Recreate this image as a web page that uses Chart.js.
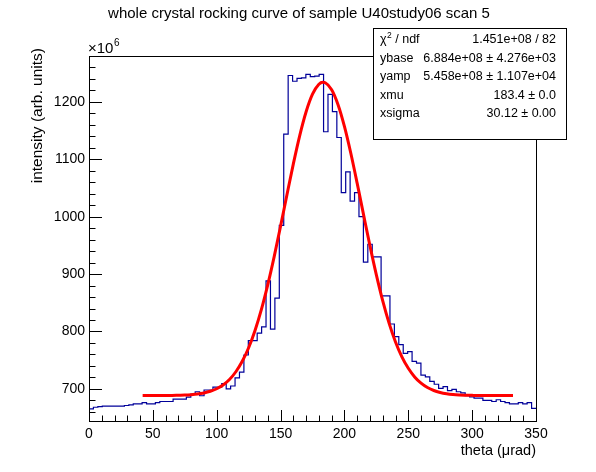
<!DOCTYPE html>
<html>
<head>
<meta charset="utf-8">
<script src="https://cdn.jsdelivr.net/npm/chart.js@4/dist/chart.umd.min.js"></script>
<style>
  html, body { margin: 0; padding: 0; background: #fff; }
</style>
</head>
<body>
<canvas id="chart" width="596" height="472"></canvas>
<script>
// histogram: 101 bins from 0 to 350 (bin contents, x10^6)
const nBins = 101;
const xMin = 0, xMax = 350;
const binValues = [
  665, 668, 669, 670, 670, 670, 670, 670, 671, 672,
  674, 674, 676, 674, 674, 676, 678, 678, 678, 682,
  682, 682, 685.5, 691, 695, 688, 698, 698, 703, 703,
  709, 700, 705, 719, 729, 759, 784, 784, 797, 808,
  888, 804, 858, 985, 1144, 1246, 1236, 1241, 1242, 1248,
  1244, 1245, 1248, 1148, 1213, 1183, 1138, 1042, 1078, 1027,
  1042, 1000, 921, 952, 930, 930, 862, 862, 813, 791,
  777, 762, 765, 748, 745, 724, 721, 713, 708, 701,
  704, 697, 699, 695, 693, 688, 686, 684, 684, 680,
  680, 678, 681, 678, 676, 674, 674, 676, 674, 676,
  666
];

// fitted gaussian
const fitX = [42, 45, 50, 55, 60, 65, 70, 75, 80, 85, 90, 95, 100, 105, 110, 115, 120, 125, 130,
  135, 140, 145, 150, 155, 160, 165, 170, 175, 180, 183, 185, 190, 195, 200, 205, 210, 215, 220,
  225, 230, 235, 240, 245, 250, 255, 260, 265, 270, 275, 280, 285, 290, 295, 300, 305, 310, 315,
  320, 325, 330, 332];
const fitY = [688.4, 688.4, 688.4, 688.5, 688.5, 688.6, 688.9, 689.2, 689.9, 691.0, 692.9, 695.8,
  700.2, 706.8, 716.4, 729.8, 748.0, 771.7, 801.8, 838.5, 881.7, 930.5, 983.5, 1038.3, 1092.0,
  1141.3, 1182.8, 1213.4, 1230.7, 1234.2, 1233.4, 1221.3, 1195.2, 1157.3, 1110.5, 1058.0, 1003.2,
  949.2, 898.7, 853.3, 814.2, 781.8, 755.8, 735.8, 720.8, 709.9, 702.3, 697.1, 693.8, 691.6,
  690.2, 689.4, 689.0, 688.7, 688.5, 688.5, 688.4, 688.4, 688.4, 688.4, 688.4];

const xTicks = [0, 50, 100, 150, 200, 250, 300, 350];
const yTicks = [700, 800, 900, 1000, 1100, 1200];

const statLabels = ["ybase", "yamp", "xmu", "xsigma"];
const statValues = ["6.884e+08 \u00b1 4.276e+03", "5.458e+08 \u00b1 1.107e+04", "183.4 \u00b1 0.0", "30.12 \u00b1 0.00"];
const chi2Text = "1.451e+08 / 82";

const FONT = '"Liberation Sans", Arial, sans-serif';

// ROOT style frame, inward ticks and text
const rootFrame = {
  id: "rootFrame",
  afterDraw(chart) {
    const ctx = chart.ctx;
    const a = chart.chartArea;
    const xs = chart.scales.x, ys = chart.scales.y;
    ctx.save();
    ctx.strokeStyle = "#000";
    ctx.lineWidth = 1;
    ctx.strokeRect(a.left + 0.5, a.top + 0.5, a.right - a.left, a.bottom - a.top);

    ctx.beginPath();
    for (let v = 0; v <= 350; v += 10) {
      const px = Math.round(xs.getPixelForValue(v)) + 0.5;
      const len = v % 50 === 0 ? 11 : 5.5;
      ctx.moveTo(px, a.bottom);
      ctx.lineTo(px, a.bottom - len);
    }
    for (let v = 660; v <= 1280; v += 20) {
      const py = Math.round(ys.getPixelForValue(v)) + 0.5;
      const len = v % 100 === 0 ? 13 : 6.5;
      ctx.moveTo(a.left, py);
      ctx.lineTo(a.left + len, py);
    }
    ctx.stroke();

    ctx.fillStyle = "#000";
    // title
    ctx.font = "15px " + FONT;
    ctx.textAlign = "center";
    ctx.textBaseline = "middle";
    ctx.fillText("whole crystal rocking curve of sample U40study06 scan 5", 299, 14);

    // x title
    ctx.font = "14.5px " + FONT;
    ctx.textAlign = "right";
    ctx.fillText("theta (\u03bcrad)", a.right, 451);

    // y title
    ctx.save();
    ctx.translate(38, 48);
    ctx.rotate(-Math.PI / 2);
    ctx.font = "15.5px " + FONT;
    ctx.textAlign = "right";
    ctx.textBaseline = "middle";
    ctx.fillText("intensity (arb. units)", 0, 0);
    ctx.restore();

    // exponent
    ctx.textAlign = "left";
    ctx.textBaseline = "alphabetic";
    ctx.font = "15px " + FONT;
    ctx.fillText("\u00d710", 88, 53);
    const w10 = ctx.measureText("\u00d710").width;
    ctx.font = "10px " + FONT;
    ctx.fillText("6", 88 + w10 + 0.5, 46);

    // stats box
    const bx = 373.5, by = 28.5, bw = 193, bh = 111;
    ctx.fillStyle = "#fff";
    ctx.fillRect(bx, by, bw, bh);
    ctx.strokeRect(bx, by, bw, bh);
    ctx.fillStyle = "#000";
    const rowY = [40, 58.5, 77, 95.5, 114];
    ctx.textBaseline = "middle";
    ctx.font = "12.5px " + FONT;
    ctx.textAlign = "left";
    ctx.fillText("\u03c7", 380, rowY[0]);
    let cx = 380 + ctx.measureText("\u03c7").width;
    ctx.font = "8.5px " + FONT;
    ctx.fillText("2", cx + 0.5, rowY[0] - 4);
    cx += ctx.measureText("2").width + 0.5;
    ctx.font = "12.5px " + FONT;
    ctx.fillText(" / ndf", cx, rowY[0]);
    ctx.textAlign = "right";
    ctx.fillText(chi2Text, 556, rowY[0]);
    statLabels.forEach((lab, i) => {
      ctx.textAlign = "left";
      ctx.fillText(lab, 380, rowY[i + 1]);
      ctx.textAlign = "right";
      ctx.fillText(statValues[i], 556, rowY[i + 1]);
    });
    ctx.restore();
  }
};

const binWidth = (xMax - xMin) / nBins;
const histData = binValues.map((v, i) => ({ x: xMin + i * binWidth, y: v }));
histData.push({ x: xMax, y: binValues[binValues.length - 1] });

new Chart(document.getElementById("chart").getContext("2d"), {
  type: "line",
  data: {
    datasets: [
      {
        label: "fit",
        data: fitX.map((x, i) => ({ x: x, y: fitY[i] })),
        borderColor: "#ff0000",
        borderWidth: 3,
        pointRadius: 0,
        fill: false,
        cubicInterpolationMode: "monotone"
      },
      {
        label: "histogram",
        data: histData,
        borderColor: "#000099",
        borderWidth: 1.2,
        pointRadius: 0,
        fill: false,
        stepped: true
      }
    ]
  },
  options: {
    responsive: false,
    animation: false,
    devicePixelRatio: 1,
    layout: { padding: { top: 56, right: 60, bottom: 0, left: 0 } },
    plugins: {
      legend: { display: false },
      tooltip: { enabled: false },
      title: { display: false }
    },
    scales: {
      x: {
        type: "linear",
        min: xMin,
        max: xMax,
        afterBuildTicks: s => { s.ticks = xTicks.map(v => ({ value: v })); },
        afterFit: s => { s.height = 51; },
        grid: { display: false, drawTicks: false },
        border: { display: false },
        ticks: { font: { family: FONT, size: 14 }, color: "#000", padding: 5, maxRotation: 0, autoSkip: false,
          callback: v => String(v) }
      },
      y: {
        type: "linear",
        min: 644,
        max: 1280,
        afterBuildTicks: s => { s.ticks = yTicks.map(v => ({ value: v })); },
        afterFit: s => { s.width = 89; },
        grid: { display: false, drawTicks: false },
        border: { display: false },
        ticks: { font: { family: FONT, size: 14 }, color: "#000", padding: 4, autoSkip: false,
          callback: v => String(v) }
      }
    }
  },
  plugins: [rootFrame]
});
</script>
</body>
</html>
